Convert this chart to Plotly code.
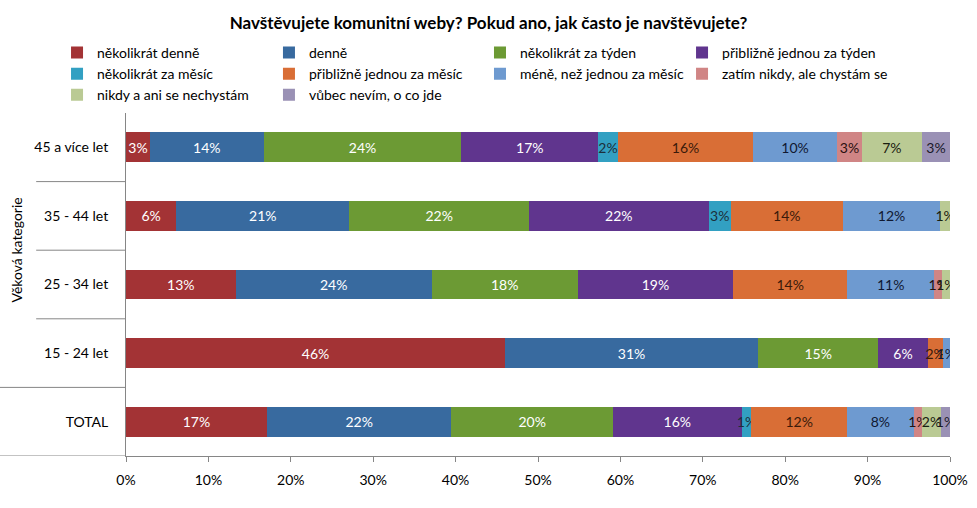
import plotly.graph_objects as go

categories = ["45 a více let", "35 - 44 let", "25 - 34 let", "15 - 24 let", "TOTAL"]

series_names = [
    "několikrát denně",
    "denně",
    "několikrát za týden",
    "přibližně jednou za týden",
    "několikrát za měsíc",
    "přibližně jednou za měsíc",
    "méně, než jednou za měsíc",
    "zatím nikdy, ale chystám se",
    "nikdy a ani se nechystám",
    "vůbec nevím, o co jde",
]

# values in %, per category (order as in categories)
nekolikrat_denne = [2.9, 6.1, 13.3, 46.0, 17.1]
denne = [13.8, 21.0, 23.8, 30.7, 22.4]
nekolikrat_za_tyden = [24.0, 21.8, 17.7, 14.6, 19.6]
jednou_za_tyden = [16.6, 21.8, 18.9, 6.0, 15.6]
nekolikrat_za_mesic = [2.4, 2.7, 0.0, 0.0, 1.2]
jednou_za_mesic = [16.4, 13.6, 13.8, 1.8, 11.6]
mene_nez_jednou = [10.2, 11.8, 10.6, 0.9, 8.1]
zatim_nikdy = [3.0, 0.0, 0.9, 0.0, 1.0]
nikdy_ani = [7.3, 1.2, 1.0, 0.0, 2.3]
vubec_nevim = [3.4, 0.0, 0.0, 0.0, 1.1]

x_ticks = [0, 10, 20, 30, 40, 50, 60, 70, 80, 90, 100]
x_tick_labels = ["0%", "10%", "20%", "30%", "40%", "50%", "60%", "70%", "80%", "90%", "100%"]

all_values = [nekolikrat_denne, denne, nekolikrat_za_tyden, jednou_za_tyden,
              nekolikrat_za_mesic, jednou_za_mesic, mene_nez_jednou,
              zatim_nikdy, nikdy_ani, vubec_nevim]

colors = ["#A33335", "#386A9F", "#6C9A34", "#60358E", "#32A0C2",
          "#D96E36", "#6E9AD0", "#D08585", "#BACA94", "#9A91B5"]
text_colors = ["#FFFFFF", "#FFFFFF", "#FFFFFF", "#FFFFFF", "#1C2F3A",
               "#3A1A0A", "#101830", "#2A1010", "#1A2010", "#1A1A2A"]
legend_ids = ["legend", "legend2", "legend3", "legend4",
              "legend", "legend2", "legend3", "legend4",
              "legend", "legend2"]

FONT = "Lato"
FS = 14

fig = go.Figure()
for name, vals, col, tcol, lg in zip(series_names, all_values, colors, text_colors, legend_ids):
    fig.add_trace(go.Bar(
        y=categories, x=vals, name=name, orientation="h",
        marker=dict(color=col, line=dict(width=0)),
        text=[f"{v:.0f}%" if v > 0 else "" for v in vals],
        textposition="inside", insidetextanchor="middle", textangle=0,
        textfont=dict(color=tcol, size=FS, family=FONT),
        legend=lg, hoverinfo="skip",
    ))

# divider lines on the category axis
shapes = []
n = len(categories)
for i in range(n):
    b = i + 0.5
    x0 = -0.153 if i >= n - 2 else -0.109
    shapes.append(dict(type="line", xref="paper", yref="y", x0=x0, x1=0, y0=b, y1=b,
                       line=dict(color="#868686", width=1)))

legend_common = dict(orientation="v", font=dict(size=FS, family=FONT, color="#000"),
                     bgcolor="rgba(0,0,0,0)", itemwidth=30, yanchor="top", xanchor="left",
                     traceorder="normal", tracegroupgap=0,
                     itemclick=False, itemdoubleclick=False)
LEG_Y = 1.222

fig.update_layout(
    width=977, height=508,
    margin=dict(l=126, r=27, t=113, b=52),
    paper_bgcolor="white", plot_bgcolor="white",
    barmode="stack", bargap=0.564,
    font=dict(family=FONT, size=FS, color="#000"),
    title=dict(text="<b>Navštěvujete komunitní weby? Pokud ano, jak často je navštěvujete?</b>",
               x=0.5, xanchor="center", y=0.955, yanchor="middle",
               font=dict(size=17, family=FONT, color="#000")),
    uniformtext=dict(minsize=FS, mode="show"),
    xaxis=dict(range=[0, 100], tickvals=x_ticks, ticktext=x_tick_labels,
               showgrid=False, zeroline=False, showline=True, linecolor="#868686",
               ticks="outside", ticklen=5, tickcolor="#868686", ticklabelstandoff=6,
               automargin=False,
               tickfont=dict(size=FS, family=FONT, color="#000"), fixedrange=True),
    yaxis=dict(range=[n - 0.5, -0.5], showgrid=False, zeroline=False, showline=True,
               linecolor="#868686", ticks="", ticklabelstandoff=14, automargin=False,
               tickfont=dict(size=FS, family=FONT, color="#000"), fixedrange=True),
    shapes=shapes,
    annotations=[dict(text="Věková kategorie", xref="paper", yref="y",
                      x=-0.133, y=1.5, xanchor="center", yanchor="middle",
                      textangle=-90, showarrow=False,
                      font=dict(size=FS, family=FONT, color="#000"))],
    legend=dict(x=-0.0837, y=LEG_Y, **legend_common),
    legend2=dict(x=0.1735, y=LEG_Y, **legend_common),
    legend3=dict(x=0.4296, y=LEG_Y, **legend_common),
    legend4=dict(x=0.6748, y=LEG_Y, **legend_common),
    showlegend=True,
)

fig.write_html("out.html", config={"displayModeBar": False},
               post_script="document.body.style.margin='0';")
